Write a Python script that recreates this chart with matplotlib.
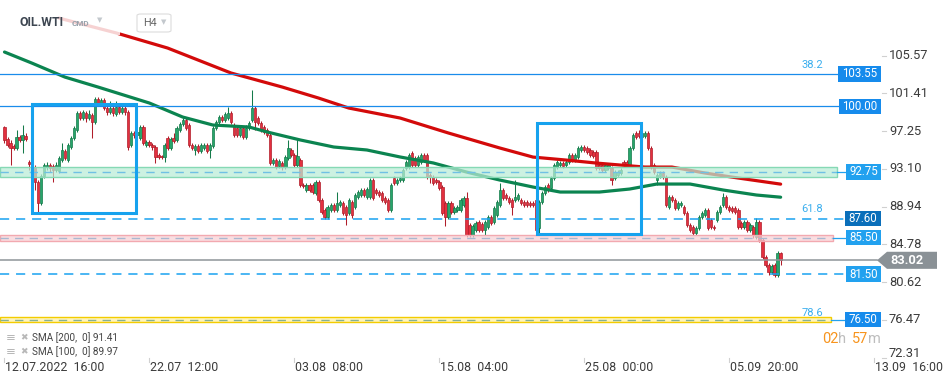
import matplotlib
matplotlib.use("Agg")
import matplotlib.pyplot as plt
import matplotlib.transforms as mtransforms
from matplotlib.patches import Rectangle, Polygon, FancyBboxPatch
from matplotlib.colors import to_rgba

plt.rcParams['font.family'] = ['Roboto', 'DejaVu Sans']

# H4 candles, OIL.WTI
opens = [97.70, 96.38, 95.94, 95.61, 95.39, 96.60, 96.27, 96.71, 93.85, 93.63,
         93.30, 91.65, 89.34, 92.31, 93.30, 93.52, 93.41, 92.97, 92.86, 94.07,
         95.06, 94.07, 95.50, 96.49, 97.37, 99.25, 98.70, 99.25, 98.70, 99.03,
         98.25, 100.79, 100.35, 100.68, 99.80, 99.36, 99.80, 99.14, 99.91, 99.36,
         99.80, 99.36, 95.72, 97.04, 96.82, 96.49, 97.70, 95.72, 96.05, 95.72,
         95.50, 94.62, 94.51, 94.40, 96.49, 95.39, 96.49, 96.27, 97.37, 98.03,
         98.48, 97.92, 95.72, 95.17, 95.61, 95.06, 95.39, 95.72, 95.17, 95.61,
         97.59, 98.25, 98.81, 98.48, 98.70, 99.25, 97.92, 97.59, 96.82, 97.59,
         96.60, 97.59, 98.48, 99.80, 98.70, 98.14, 97.70, 97.37, 96.82, 93.74,
         94.07, 93.41, 93.74, 93.30, 94.29, 95.17, 94.62, 93.52, 94.07, 91.32,
         90.77, 91.32, 91.32, 90.44, 91.65, 89.67, 88.57, 87.80, 88.57, 89.12,
         88.57, 89.12, 89.34, 88.90, 88.24, 89.45, 88.90, 90.00, 90.22, 90.77,
         90.00, 90.00, 91.87, 90.77, 90.55, 90.44, 89.89, 89.67, 88.57, 92.09,
         91.54, 91.87, 91.87, 93.19, 93.30, 94.84, 94.29, 93.52, 93.85, 94.62,
         94.62, 92.42, 92.20, 91.87, 91.65, 91.10, 89.34, 87.80, 89.34, 88.35,
         88.57, 88.57, 89.12, 89.89, 86.92, 85.82, 86.37, 87.25, 87.03, 86.37,
         86.70, 87.80, 87.25, 88.02, 89.12, 90.77, 90.22, 89.89, 89.67, 89.67,
         89.78, 89.67, 89.45, 89.45, 89.34, 89.34, 89.67, 86.59, 89.45, 90.44,
         91.32, 90.99, 92.09, 93.30, 93.52, 93.74, 93.52, 93.85, 94.62, 94.07,
         94.40, 95.17, 95.50, 95.39, 95.17, 94.95, 94.95, 93.52, 93.52, 92.97,
         93.19, 93.19, 92.09, 92.42, 92.64, 93.85, 93.85, 93.52, 95.39, 97.04,
         97.04, 96.60, 96.71, 97.04, 95.39, 93.52, 91.87, 92.31, 92.64, 92.20,
         88.90, 90.00, 89.67, 88.79, 89.12, 88.90, 88.24, 86.92, 86.70, 86.04,
         86.59, 87.80, 88.02, 88.57, 87.47, 86.70, 87.47, 88.35, 89.12, 90.00,
         88.90, 88.79, 88.79, 88.57, 87.14, 86.70, 87.25, 86.37, 86.70, 85.60,
         87.25, 85.27, 83.40, 82.52, 81.77, 82.52, 81.44, 83.84]
closes = [96.27, 95.72, 95.39, 95.39, 96.60, 96.27, 96.82, 96.38, 93.63, 93.30,
          91.65, 89.34, 92.31, 93.52, 93.52, 93.19, 92.97, 93.52, 94.29, 95.17,
          94.29, 95.72, 96.49, 97.59, 99.25, 98.70, 99.36, 98.70, 99.14, 98.25,
          100.79, 100.35, 100.68, 99.80, 99.36, 99.80, 99.25, 99.91, 99.36, 99.80,
          99.36, 95.50, 97.04, 96.82, 97.15, 97.70, 95.94, 96.05, 95.72, 95.50,
          94.40, 94.40, 94.40, 95.72, 95.39, 96.38, 96.16, 97.59, 98.03, 98.48,
          97.59, 95.72, 95.39, 95.61, 95.06, 95.72, 95.72, 95.06, 95.72, 97.59,
          98.25, 98.81, 98.48, 99.14, 99.25, 98.25, 96.82, 96.82, 97.59, 96.60,
          97.59, 98.14, 99.80, 98.25, 98.14, 97.37, 97.15, 96.82, 93.74, 94.07,
          93.30, 93.96, 93.30, 94.40, 95.39, 94.62, 93.52, 94.51, 91.32, 91.21,
          91.32, 90.77, 90.55, 91.65, 89.67, 88.35, 87.80, 88.90, 89.12, 88.57,
          89.34, 89.45, 88.24, 88.02, 89.67, 88.02, 90.22, 90.55, 90.77, 90.22,
          90.88, 91.87, 89.89, 90.44, 90.22, 89.67, 89.45, 88.57, 91.32, 91.54,
          91.87, 92.09, 92.97, 93.85, 94.62, 93.52, 93.52, 94.40, 94.62, 94.07,
          92.20, 92.20, 91.54, 91.65, 90.99, 88.24, 87.80, 89.34, 88.35, 88.79,
          88.90, 89.67, 89.89, 85.82, 85.82, 86.81, 87.14, 86.37, 86.37, 87.25,
          87.80, 87.14, 88.79, 89.45, 90.77, 89.89, 89.89, 89.45, 88.90, 90.00,
          90.22, 89.34, 89.12, 89.12, 89.12, 89.12, 86.37, 89.45, 90.44, 91.10,
          90.77, 92.09, 93.52, 93.85, 93.74, 93.41, 93.85, 94.62, 94.07, 94.62,
          95.39, 95.50, 95.17, 94.95, 94.62, 94.51, 93.19, 93.19, 92.97, 93.52,
          93.52, 91.87, 92.75, 92.75, 92.97, 93.52, 93.52, 95.39, 96.82, 96.60,
          96.71, 97.04, 97.04, 95.39, 93.30, 92.75, 92.42, 92.64, 92.20, 89.12,
          90.00, 89.67, 88.79, 89.34, 89.34, 88.24, 86.92, 86.37, 86.04, 86.59,
          87.80, 88.24, 88.57, 86.59, 86.70, 86.59, 88.35, 88.90, 90.00, 88.90,
          88.57, 88.46, 88.35, 86.70, 86.70, 87.25, 86.37, 86.92, 85.82, 87.25,
          85.27, 83.40, 82.52, 81.77, 82.41, 81.44, 83.84, 83.02]
highs = [97.81, 96.60, 96.27, 95.83, 97.37, 96.82, 97.92, 97.04, 94.07, 93.85,
         93.52, 91.87, 92.53, 93.74, 93.85, 93.74, 93.63, 93.85, 94.51, 95.94,
         95.28, 95.94, 96.71, 97.81, 99.47, 99.47, 99.58, 99.47, 99.58, 99.25,
         101.01, 101.01, 100.90, 100.90, 100.02, 100.57, 100.02, 100.57, 100.13, 100.02,
         100.02, 99.58, 97.26, 97.26, 97.37, 97.92, 97.92, 96.27, 96.27, 95.94,
         95.72, 94.84, 94.62, 95.94, 96.71, 96.60, 97.04, 97.81, 98.25, 98.70,
         98.70, 98.14, 95.94, 95.83, 95.83, 95.94, 95.94, 95.94, 95.94, 97.81,
         98.48, 99.03, 99.03, 99.36, 99.91, 99.47, 98.14, 97.81, 97.81, 97.81,
         97.92, 98.37, 101.78, 100.02, 98.92, 98.37, 97.92, 97.59, 97.04, 94.29,
         94.29, 94.18, 93.96, 94.62, 96.27, 95.39, 94.84, 96.49, 94.29, 91.54,
         91.54, 91.54, 91.54, 91.87, 91.87, 89.89, 88.79, 89.12, 89.34, 89.34,
         90.55, 89.67, 89.56, 89.12, 89.89, 89.67, 90.44, 90.77, 90.99, 90.99,
         91.10, 92.09, 92.09, 90.99, 90.77, 90.66, 90.11, 89.89, 91.54, 92.31,
         92.09, 92.31, 93.19, 94.07, 94.84, 95.06, 94.51, 94.62, 94.84, 94.84,
         94.84, 92.64, 92.42, 92.09, 91.87, 91.32, 89.56, 89.56, 89.56, 89.01,
         89.12, 89.89, 90.11, 90.55, 87.14, 87.03, 87.36, 87.47, 87.25, 87.47,
         88.02, 88.02, 89.01, 89.67, 91.54, 90.99, 90.44, 90.11, 89.89, 91.87,
         90.44, 89.89, 89.67, 89.67, 89.56, 89.56, 89.89, 89.67, 90.66, 91.32,
         91.54, 92.31, 93.74, 94.07, 93.96, 93.96, 94.07, 94.84, 94.84, 94.84,
         95.61, 95.72, 95.72, 95.61, 95.39, 95.17, 95.17, 93.74, 93.74, 93.74,
         93.74, 93.41, 92.97, 92.97, 93.19, 94.07, 94.07, 95.61, 97.04, 97.26,
         97.37, 97.26, 97.26, 97.26, 95.61, 93.74, 92.64, 92.86, 92.86, 92.42,
         90.22, 90.22, 89.89, 89.56, 89.56, 89.12, 88.46, 87.14, 86.92, 86.81,
         88.02, 88.46, 88.79, 88.79, 87.69, 86.92, 88.57, 89.12, 90.44, 90.22,
         89.12, 89.01, 89.01, 88.79, 87.36, 87.47, 87.47, 87.14, 86.92, 87.69,
         87.47, 85.49, 83.62, 82.74, 82.63, 82.74, 84.06, 83.95]
lows = [95.94, 95.50, 93.52, 95.17, 95.17, 96.05, 94.84, 96.16, 92.97, 92.97,
        90.77, 88.35, 89.12, 92.09, 92.97, 92.75, 91.65, 92.75, 92.64, 93.85,
        94.07, 93.85, 95.28, 96.27, 97.15, 98.48, 98.48, 98.25, 98.48, 96.49,
        98.03, 100.13, 100.02, 99.58, 99.03, 99.14, 98.92, 98.92, 99.14, 99.14,
        99.03, 95.17, 95.50, 96.49, 96.60, 96.27, 95.72, 95.50, 95.50, 95.17,
        93.74, 94.18, 94.18, 93.85, 95.17, 95.17, 95.94, 96.05, 97.15, 97.81,
        97.37, 95.50, 95.17, 94.62, 94.84, 94.84, 95.17, 94.84, 94.29, 95.39,
        97.37, 98.03, 98.25, 98.25, 98.48, 98.03, 96.60, 96.60, 96.60, 96.38,
        96.38, 97.37, 98.25, 97.37, 97.92, 97.15, 96.93, 96.60, 93.52, 93.52,
        93.08, 93.19, 92.97, 93.08, 94.07, 94.40, 93.30, 93.30, 91.10, 90.99,
        90.55, 90.55, 90.33, 90.22, 89.45, 88.13, 87.58, 87.58, 88.35, 88.35,
        88.35, 88.90, 88.02, 86.92, 88.02, 87.69, 88.68, 89.78, 90.00, 90.00,
        89.78, 89.78, 89.67, 90.22, 90.00, 89.45, 89.23, 88.35, 88.35, 91.32,
        91.32, 91.65, 91.65, 92.97, 93.08, 93.30, 93.30, 93.30, 93.63, 93.85,
        91.98, 91.54, 91.32, 91.43, 90.77, 88.02, 86.81, 87.58, 88.13, 88.13,
        88.35, 88.35, 88.90, 85.60, 85.60, 85.60, 86.15, 86.15, 86.15, 85.82,
        86.48, 86.92, 87.03, 87.80, 88.90, 89.67, 89.67, 89.23, 88.02, 89.45,
        89.56, 89.12, 88.90, 88.90, 88.90, 88.90, 86.15, 85.82, 89.23, 90.22,
        90.55, 90.77, 91.87, 93.08, 93.30, 93.19, 93.30, 93.63, 93.85, 93.85,
        94.18, 94.95, 94.95, 94.73, 94.40, 94.29, 92.97, 92.97, 92.75, 92.75,
        92.97, 91.32, 91.87, 92.20, 92.42, 93.30, 93.30, 93.30, 95.17, 96.38,
        96.49, 96.38, 96.49, 95.17, 93.08, 92.53, 91.32, 92.09, 91.98, 88.90,
        88.68, 89.45, 88.57, 88.57, 88.90, 88.02, 86.70, 86.15, 85.82, 85.82,
        86.37, 87.58, 87.80, 86.37, 86.48, 86.37, 87.25, 88.13, 88.90, 88.68,
        88.35, 88.24, 88.13, 86.48, 86.48, 86.48, 86.15, 86.15, 85.49, 85.38,
        85.05, 83.18, 82.30, 81.44, 81.55, 81.22, 81.22, 82.52]

# moving averages (bar index, value)
sma200_bars = [18, 37, 54, 75, 92, 104, 114, 131, 147, 164, 175, 186, 196, 212, 221, 232, 243, 257]
sma200 = [109.70, 108.06, 106.40, 103.65, 102.10, 100.89, 99.79, 98.69, 97.04, 95.39,
          94.39, 94.06, 93.73, 93.29, 93.29, 92.63, 92.08, 91.41]
sma100_bars = [0, 9, 20, 31, 48, 59, 69, 81, 87, 98, 109, 120, 131, 142, 153, 164, 175,
               184, 197, 207, 216, 227, 238, 249, 257]
sma100 = [105.96, 104.75, 103.20, 102.10, 100.34, 98.80, 97.92, 97.70, 97.15, 96.27,
          95.50, 95.17, 94.40, 93.74, 92.74, 91.86, 91.09, 90.54, 90.54, 90.87, 91.42,
          91.42, 90.76, 90.21, 89.97]

last_price = 83.02
ytick_values = [105.57, 101.41, 97.25, 93.10, 88.94, 84.78, 80.62, 76.47, 72.31]
date_bars = [0, 48, 96, 144, 192, 240, 288]
date_labels = ['12.07.2022  16:00', '22.07  12:00', '03.08  08:00', '15.08  04:00',
               '25.08  00:00', '05.09  20:00', '13.09  16:00']

W, H = 949, 384
fig = plt.figure(figsize=(W / 100, H / 100), dpi=100)
AX_W, AX_H = 880, 362
ax = fig.add_axes([0, (H - AX_H) / H, AX_W / W, AX_H / H])
ax.set_xlim(-1.49, -1.49 + AX_W / 3.02)
ax.set_ylim(71.82, 111.69)
ax.axis('off')

yx = mtransforms.blended_transform_factory(ax.transAxes, ax.transData)
xy = mtransforms.blended_transform_factory(ax.transData, ax.transAxes)


def fx(px):
    return px / AX_W


# candles
for i in range(len(closes)):
    o, h, l, c = opens[i], highs[i], lows[i], closes[i]
    up = c >= o
    fc = '#27a56b' if up else '#e3303f'
    ec = '#147a4a' if up else '#b01d2a'
    ax.vlines(i, l, h, color=ec, lw=0.75, zorder=2)
    ax.add_patch(Rectangle((i - 0.38, min(o, c)), 0.76, max(abs(c - o), 0.09),
                           facecolor=fc, edgecolor=ec, lw=0.5, zorder=3))

# moving averages
ax.plot(sma200_bars, sma200, color='#d30a0a', lw=2.3, zorder=4, solid_capstyle='round')
ax.plot(sma100_bars, sma100, color='#0b8450', lw=2.3, zorder=4, solid_capstyle='round')

# zones
zones = [(93.33, 92.17, 837, '#b9ecd6', '#86d9b5', '#6fc0e4'),
         (85.83, 85.17, 833, '#f9d0d4', '#f2a9b0', '#a9b8d0'),
         (76.80, 76.20, 831, '#fff1a0', '#f3cc00', '#87b095')]
for top, bot, xend, fc, ec, dc in zones:
    ax.add_patch(Rectangle((0, bot), fx(xend), top - bot, transform=yx,
                           facecolor=to_rgba(fc, 0.72), edgecolor=ec, lw=1.0, zorder=5))
    mid = (top + bot) / 2
    ax.plot([0, fx(xend)], [mid, mid], transform=yx, color=dc, lw=1.0,
            ls=(0, (6, 4.5)), zorder=5)

# horizontal levels: price, box start px, box colour, line style
levels = [(103.55, 838, '#168bec', '-'),
          (100.00, 839, '#168bec', '-'),
          (92.75, 846, '#22a1ef', '-'),
          (87.60, 845, '#0b6fba', '--'),
          (85.50, 846, '#22a1ef', '-'),
          (81.50, 846, '#22a1ef', '--'),
          (76.50, 845, '#168bec', '-')]
zone_ends = {92.75: 837, 85.50: 833, 76.50: 831}
for price, bx, bc, ls in levels:
    if price in zone_ends:
        ax.plot([fx(zone_ends[price]), fx(bx)], [price, price], transform=yx,
                color='#22a1ef', lw=0.9, zorder=5)
    elif ls == '-':
        ax.plot([0, fx(bx)], [price, price], transform=yx, color='#1a8ceb', lw=0.9, zorder=5)
    else:
        ax.plot([0, fx(bx)], [price, price], transform=yx, color='#19a2f0', lw=1.1,
                ls=(0, (6, 4.5)), zorder=5)
    ax.add_patch(Rectangle((fx(bx), price - 0.84), fx(881 - bx), 1.68, transform=yx,
                           facecolor=bc, edgecolor='none', zorder=6, clip_on=False))
    ax.text(fx((bx + 881) / 2), price, f'{price:.2f}', transform=yx, ha='center',
            va='center', color='white', fontsize=8.3, zorder=7, clip_on=False)

# fibonacci tags
for lab, price in [('38.2', 104.53), ('61.8', 88.67), ('78.6', 77.22)]:
    ax.text(fx(812), price, lab, transform=yx, ha='center', va='center',
            color='#3aaeee', fontsize=8, zorder=7)

# last price
ax.plot([0, fx(877)], [last_price, last_price], transform=yx, color='#8e9498',
        lw=1.1, zorder=5, clip_on=False)
ax.add_patch(Polygon([(fx(877), last_price), (fx(887), last_price + 0.94),
                      (fx(937), last_price + 0.94), (fx(937), last_price - 0.94),
                      (fx(887), last_price - 0.94)], closed=True, transform=yx,
                     facecolor='#8a9196', edgecolor='none', zorder=6, clip_on=False))

# boxes
for x0, x1, y0, y1 in [(9.27, 43.7, 88.18, 100.24), (176.2, 210.6, 85.97, 98.09)]:
    ax.add_patch(Rectangle((x0, y0), x1 - x0, y1 - y0, fill=False,
                           edgecolor='#16a2ee', lw=2.2, zorder=6))

# header overlay
ax.add_patch(Rectangle((0, 1 - 35 / AX_H), fx(120), 35 / AX_H, transform=ax.transAxes,
                       facecolor='white', alpha=0.82, edgecolor='none', zorder=8))

# price scale
for v in ytick_values:
    tr = yx
    if v == ytick_values[-1]:
        tr = mtransforms.offset_copy(yx, fig=fig, y=4.5, units='dots')
    ax.text(fx(889), v, f'{v:.2f}', transform=tr, ha='left', va='center',
            fontsize=9.3, color='#3b3b3b', clip_on=False)
    ax.plot([fx(882), fx(886)], [v, v], transform=yx, color='#d0d0d0', lw=0.8, clip_on=False)
ax.text(fx(890), last_price, f'{last_price:.2f}', transform=yx, ha='left', va='center',
        fontsize=9.3, color='white', fontweight='bold', zorder=7, clip_on=False)

# time scale
for b, lab in zip(date_bars, date_labels):
    ax.plot([b, b], [0.012, 0.0], transform=xy, color='#d0d0d0', lw=0.8, clip_on=False)
    ax.text(b + 0.2, -0.014, lab, transform=xy, ha='left', va='center',
            fontsize=8.9, color='#3b3b3b', clip_on=False)


def fig_px(x, y):
    return x / W, 1 - y / H


# header
fig.text(*fig_px(20, 22), 'OIL.WTI', fontsize=8.8, fontweight='bold', color='#3d4651', va='center')
fig.text(*fig_px(72, 23), 'CMD', fontsize=5.8, fontweight='bold', color='#98a2ac', va='center')
fig.text(*fig_px(100, 21), '▼', fontsize=5, color='#c3c8cd', ha='center', va='center')
fig.add_artist(FancyBboxPatch(fig_px(137, 32), 34 / W, 18 / H, transform=fig.transFigure,
                              boxstyle='round,pad=0,rounding_size=0.004',
                              facecolor='white', edgecolor='#dcdcdc', lw=0.8))
fig.text(*fig_px(143, 23), 'H4', fontsize=7.8, color='#666666', va='center')
fig.text(*fig_px(164, 23), '▼', fontsize=5, color='#c3c8cd', ha='center', va='center')

# indicator legend
for yy, lab in [(338, 'SMA [200,  0] 91.41'), (352, 'SMA [100,  0] 89.97')]:
    fig.text(*fig_px(6, yy), '≡', fontsize=8.5, color='#b8b8b8', va='center')
    fig.text(*fig_px(20, yy), '✖', fontsize=6.5, color='#b8b8b8', va='center')
    fig.text(*fig_px(32, yy), lab, fontsize=7.2, color='#444444', va='center')

# candle countdown
for xx, s, col in [(822, '02', '#f7941d'), (838, 'h', '#bdbdbd'),
                   (852, '57', '#f7941d'), (868, 'm', '#bdbdbd')]:
    fig.text(*fig_px(xx, 339), s, fontsize=10.5, color=col, va='center')

fig.savefig('out.png', dpi=100)
